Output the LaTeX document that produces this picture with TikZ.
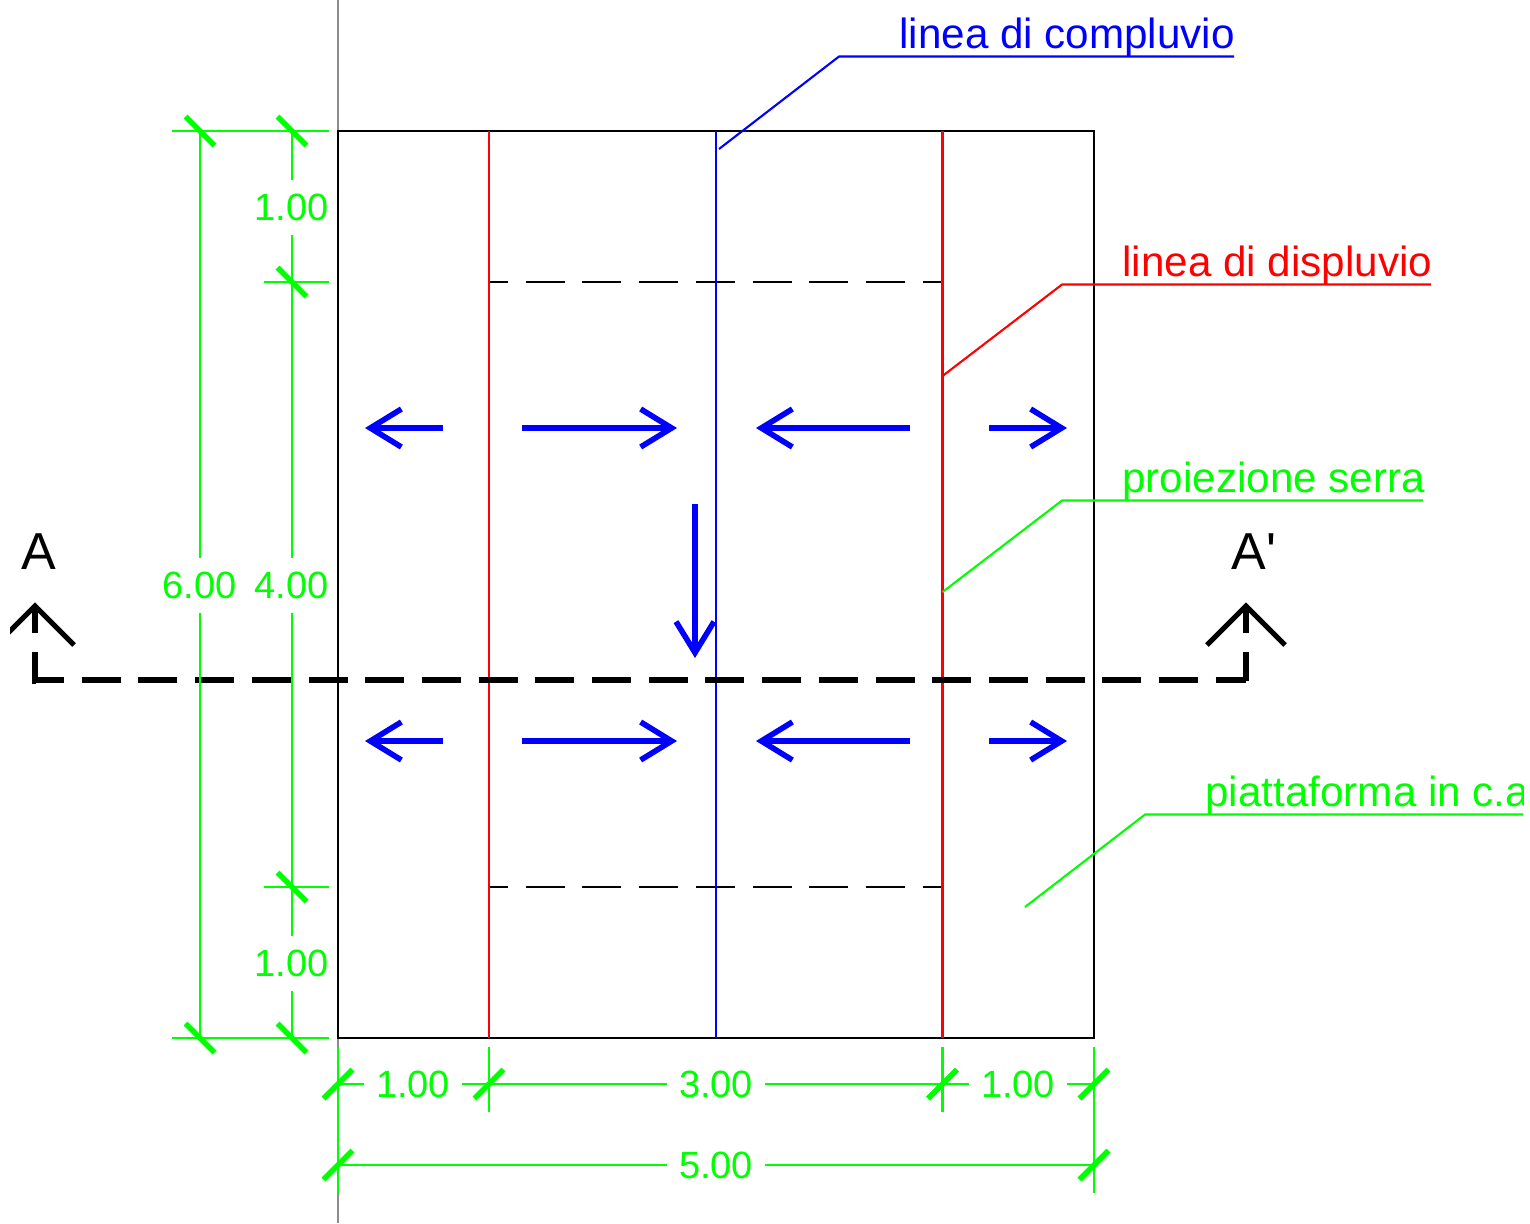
\documentclass[tikz,border=0pt]{standalone}
\usepackage{fontspec}
\setmainfont{Liberation Sans}
\newfontfamily\plainsans{Liberation Sans}
\usetikzlibrary{arrows.meta}
\definecolor{dimgreen}{RGB}{0,255,0}
\definecolor{flowblue}{RGB}{0,0,255}
\definecolor{ridgered}{RGB}{255,0,0}
\tikzset{
  thinline/.style={line width=1.05pt},
  dimline/.style={thinline,draw=dimgreen},
  dimtick/.style={line width=2.8pt,draw=dimgreen},
  dimlabel/.style={text=dimgreen,inner sep=0pt,font=\fontsize{19}{22}\selectfont},
  dimh/.style={dimlabel,minimum width=49pt,minimum height=27pt},
  calllabel/.style={inner sep=0pt,anchor=base west,font=\fontsize{21.1}{25}\selectfont},
  seclabel/.style={inner sep=0pt,anchor=base west,font=\plainsans\fontsize{26}{30}\selectfont},
  hidden/.style={thinline,draw=black,dash pattern=on 19.5pt off 8.85pt,dash phase=10pt},
  cutline/.style={line width=2.6pt,draw=black},
  flow/.style={line width=3pt,draw=flowblue,-{Straight Barb[length=15.5pt,width=19pt,line width=2.8pt]}},
}
\begin{document}
\begin{tikzpicture}[x=0.5pt,y=-0.5pt]
\useasboundingbox (0,0) rectangle (1530,1223);
\begin{scope}
\clip (10,0) rectangle (1523,1223);
% coordinates
\coordinate (tl) at (338,131); \coordinate (br) at (1094,1038);
\coordinate (gt) at (338,0); \coordinate (gb) at (338,1223);
% reference line
\draw[thinline,draw=black!45] (gt) -- (gb);
% plan
\draw[thinline,draw=black] (tl) rectangle (br);
\coordinate (h1) at (489,282); \coordinate (h2) at (942.5,282);
\coordinate (h3) at (489,887); \coordinate (h4) at (942.5,887);
\draw[hidden] (h1) -- (h2);
\draw[hidden] (h3) -- (h4);
\coordinate (r1t) at (489,131); \coordinate (r1b) at (489,1038);
\coordinate (r2t) at (942.5,131); \coordinate (r2b) at (942.5,1038);
\coordinate (bt) at (716,131); \coordinate (bb) at (716,1038);
\draw[thinline,draw=ridgered] (r1t) -- (r1b);
\draw[thinline,draw=ridgered] (r2t) -- (r2b);
\draw[thinline,draw=flowblue] (bt) -- (bb);
% flow arrows
\foreach \y/\n in {428/a,741/b}{
  \coordinate (\n1s) at (443,\y); \coordinate (\n1e) at (365,\y);
  \coordinate (\n2s) at (522,\y); \coordinate (\n2e) at (677,\y);
  \coordinate (\n3s) at (910,\y); \coordinate (\n3e) at (756,\y);
  \coordinate (\n4s) at (989,\y); \coordinate (\n4e) at (1067,\y);
  \draw[flow] (\n1s) -- (\n1e);
  \draw[flow] (\n2s) -- (\n2e);
  \draw[flow] (\n3s) -- (\n3e);
  \draw[flow] (\n4s) -- (\n4e);
}
\coordinate (ds) at (695,504); \coordinate (de) at (695,658);
\draw[flow] (ds) -- (de);
% section line
\coordinate (sl) at (35,680); \coordinate (sr) at (1246,680);
\draw[cutline,dash pattern=on 19.5pt off 8.85pt,dash phase=5pt,line cap=butt] (sl) -- (sr);
\coordinate (slu) at (35,652); \coordinate (sru) at (1246,652);
\draw[cutline,line join=miter] (slu) -- ++(0,29.3) -- ++(1.3,0);
\draw[cutline] (sru) -- (1246,681.2);
\foreach \x/\n in {35/l,1246/r}{
  \coordinate (tip\n) at (\x,606);
  \coordinate (st\n) at (\x,633);
  \coordinate (wa\n) at (\x-39,645);
  \coordinate (wb\n) at (\x+39,645);
  \draw[cutline,line join=miter] (wa\n) -- (tip\n) -- (wb\n);
  \draw[cutline] (tip\n) -- (st\n);
}
\node[seclabel] (secA) at (21,569) {A};
\node[seclabel] (secB) at (1231,569) {A'};
% extension lines
\foreach \xa/\xb/\y/\n in {172/329/131/1,264/329/282/2,264/329/887/3,172/329/1038/4}{
  \coordinate (ex\n a) at (\xa,\y); \coordinate (ex\n b) at (\xb,\y);
  \draw[dimline] (ex\n a) -- (ex\n b);
}
\foreach \x/\yb/\n in {338/1193/1,489/1112/2,942.5/1112/3,1094/1193/4}{
  \coordinate (ey\n a) at (\x,1047); \coordinate (ey\n b) at (\x,\yb);
  \draw[dimline] (ey\n a) -- (ey\n b);
}
% vertical dimensions
\node[dimh] (d600) at (199.5,585.5) {6.00};
\node[dimh] (d400) at (291.5,585.5) {4.00};
\node[dimh] (d100a) at (291.5,207.5) {1.00};
\node[dimh] (d100b) at (291.5,963.5) {1.00};
\coordinate (v1) at (200,131); \coordinate (v2) at (200,1038);
\coordinate (w1) at (292,131); \coordinate (w2) at (292,282);
\coordinate (w3) at (292,887); \coordinate (w4) at (292,1038);
\draw[dimline] (v1) -- (v1 |- d600.north);
\draw[dimline] (v1 |- d600.south) -- (v2);
\draw[dimline] (w1) -- (w1 |- d100a.north);
\draw[dimline] (w1 |- d100a.south) -- (w2);
\draw[dimline] (w2) -- (w2 |- d400.north);
\draw[dimline] (w2 |- d400.south) -- (w3);
\draw[dimline] (w3) -- (w3 |- d100b.north);
\draw[dimline] (w3 |- d100b.south) -- (w4);
% horizontal dimensions
\node[dimh] (h100a) at (413,1084.5) {1.00};
\node[dimh] (h300) at (716,1084.5) {3.00};
\node[dimh] (h100b) at (1018,1084.5) {1.00};
\node[dimh] (h500) at (716,1165.5) {5.00};
\coordinate (p1) at (338,1084); \coordinate (p2) at (489,1084);
\coordinate (p3) at (942.5,1084); \coordinate (p4) at (1094,1084);
\coordinate (q1) at (338,1165); \coordinate (q2) at (1094,1165);
\draw[dimline] (p1) -- (p1 -| h100a.west);
\draw[dimline] (p1 -| h100a.east) -- (p2);
\draw[dimline] (p2) -- (p2 -| h300.west);
\draw[dimline] (p2 -| h300.east) -- (p3);
\draw[dimline] (p3) -- (p3 -| h100b.west);
\draw[dimline] (p3 -| h100b.east) -- (p4);
\draw[dimline] (q1) -- (q1 -| h500.west);
\draw[dimline] (q1 -| h500.east) -- (q2);
% ticks
\foreach \x/\y in {200/131,292/131,292/282,292/887,200/1038,292/1038}{
  \draw[dimtick] (\x-14.5,\y-14.5) -- (\x+14.5,\y+14.5);
}
\foreach \x/\y in {338/1084,489/1084,942.5/1084,1094/1084,338/1165,1094/1165}{
  \draw[dimtick] (\x-14.5,\y+14.5) -- (\x+14.5,\y-14.5);
}
% call-outs
\coordinate (c1a) at (719,149); \coordinate (c1b) at (839,56.5); \coordinate (c1c) at (1234,56.5);
\draw[thinline,draw=flowblue] (c1a) -- (c1b) -- (c1c);
\node[calllabel,text=flowblue] (t1) at (899,48) {linea di compluvio};
\coordinate (c2a) at (942.5,376); \coordinate (c2b) at (1062,284.5); \coordinate (c2c) at (1431,284.5);
\draw[thinline,draw=ridgered] (c2a) -- (c2b) -- (c2c);
\node[calllabel,text=ridgered] (t2) at (1122,276) {linea di displuvio};
\coordinate (c3a) at (942.5,592); \coordinate (c3b) at (1062,500.5); \coordinate (c3c) at (1423,500.5);
\draw[dimline] (c3a) -- (c3b) -- (c3c);
\node[calllabel,text=dimgreen] (t3) at (1122,492) {proiezione serra};
\coordinate (c4a) at (1025,907); \coordinate (c4b) at (1145,814.5); \coordinate (c4c) at (1530,814.5);
\draw[dimline] (c4a) -- (c4b) -- (c4c);
\node[calllabel,text=dimgreen] (t4) at (1205,806.5) {piattaforma in c.a};
\end{scope}
\end{tikzpicture}
\end{document}
